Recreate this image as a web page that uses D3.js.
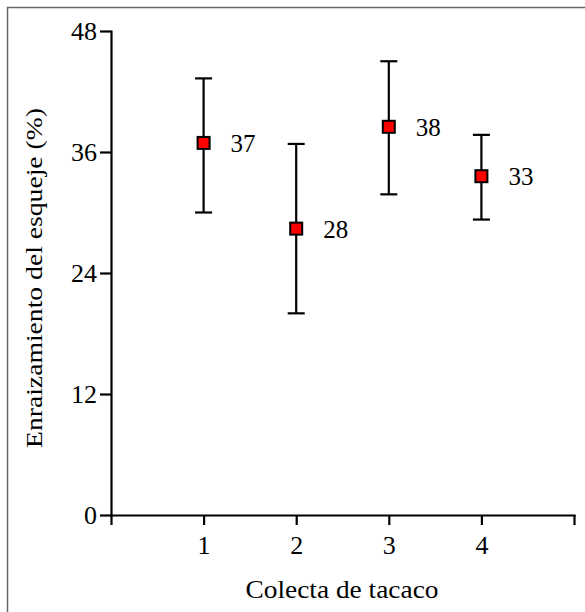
<!DOCTYPE html>
<html>
<head>
<meta charset="utf-8">
<script src="https://cdn.jsdelivr.net/npm/d3@7"></script>
<style>
  body { margin: 0; background: #fff; }
  svg { display: block; }
  text { font-family: "Liberation Serif", "Times New Roman", serif; fill: #000; }
</style>
</head>
<body>
<script>
const categories = [1, 2, 3, 4];
const means = [36.9, 28.4, 38.5, 33.6];
const upper = [43.3, 36.8, 45.0, 37.7];
const lower = [30.0, 20.0, 31.8, 29.3];
const pointLabels = ["37", "28", "38", "33"];
const yTicks = [0, 12, 24, 36, 48];
const xTicks = [0, 1, 2, 3, 4, 5];
const xTitle = "Colecta de tacaco";
const yTitle = "Enraizamiento del esqueje (%)";

const W = 585, H = 612;
const svg = d3.select("body").append("svg").attr("width", W).attr("height", H);

svg.append("rect").attr("x", 7.5).attr("y", 7.5).attr("width", W).attr("height", H)
  .attr("fill", "#fff").attr("stroke", "#666").attr("stroke-width", 1.5);

const x = d3.scaleLinear().domain([0, 5]).range([111, 574]);
const y = d3.scaleLinear().domain([0, 48]).range([515, 31]);

const yAxis = d3.axisLeft(y).tickValues(yTicks).tickSizeInner(11).tickSizeOuter(0).tickPadding(3);
const xAxis = d3.axisBottom(x).tickValues(xTicks).tickSizeInner(10).tickSizeOuter(0).tickPadding(11)
  .tickFormat(d => (d >= 1 && d <= 4) ? d : "");

const gy = svg.append("g").attr("transform", `translate(${x(0)},0)`).call(yAxis);
const gx = svg.append("g").attr("transform", `translate(0,${y(0)})`).call(xAxis);

[gx, gy].forEach(g => {
  g.attr("font-family", null);
  g.select(".domain").attr("stroke", "#000").attr("stroke-width", 2.2).attr("stroke-linecap", "square");
  g.selectAll(".tick line").attr("stroke", "#000").attr("stroke-width", 2.2);
  g.selectAll(".tick text").attr("font-size", 26).attr("fill", "#000");
});

// error bars
const capHalf = 8.5;
const eb = svg.append("g").attr("stroke", "#000").attr("stroke-width", 2.2);
categories.forEach((c, i) => {
  const cx = x(c);
  eb.append("line").attr("x1", cx).attr("x2", cx).attr("y1", y(lower[i])).attr("y2", y(upper[i]));
  eb.append("line").attr("x1", cx - capHalf).attr("x2", cx + capHalf).attr("y1", y(upper[i])).attr("y2", y(upper[i]));
  eb.append("line").attr("x1", cx - capHalf).attr("x2", cx + capHalf).attr("y1", y(lower[i])).attr("y2", y(lower[i]));
});

// markers
const ms = 12;
svg.append("g").selectAll("rect").data(categories).join("rect")
  .attr("x", d => x(d) - ms / 2)
  .attr("y", (d, i) => y(means[i]) - ms / 2)
  .attr("width", ms).attr("height", ms)
  .attr("fill", "#ff0000").attr("stroke", "#000").attr("stroke-width", 2);

// value labels
svg.append("g").selectAll("text").data(categories).join("text")
  .attr("x", d => x(d) + 27)
  .attr("y", (d, i) => y(means[i]) + 9)
  .attr("font-size", 25)
  .text((d, i) => pointLabels[i]);

// titles
svg.append("text")
  .attr("x", 342).attr("y", 598)
  .attr("text-anchor", "middle")
  .attr("font-size", 25)
  .attr("textLength", 193).attr("lengthAdjust", "spacingAndGlyphs")
  .text(xTitle);

svg.append("text")
  .attr("transform", "translate(42,278) rotate(-90)")
  .attr("text-anchor", "middle")
  .attr("font-size", 23)
  .attr("textLength", 340).attr("lengthAdjust", "spacingAndGlyphs")
  .text(yTitle);
</script>
</body>
</html>
